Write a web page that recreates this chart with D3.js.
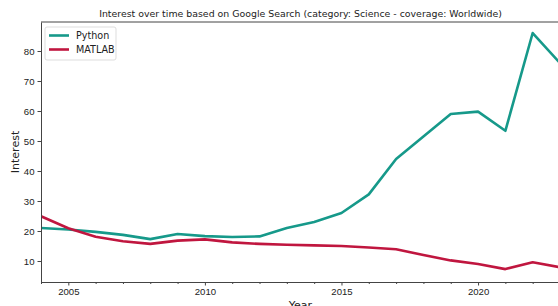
<!DOCTYPE html>
<html>
<head>
<meta charset="utf-8">
<script src="https://cdn.jsdelivr.net/npm/d3@7"></script>
<style>
  body { margin: 0; background: #fff; }
  svg { display: block; font-family: "DejaVu Sans", sans-serif; }
</style>
</head>
<body>
<svg id="chart" width="558" height="306"></svg>
<script>
// data
const years = [2004, 2005, 2006, 2007, 2008, 2009, 2010, 2011, 2012, 2013,
               2014, 2015, 2016, 2017, 2018, 2019, 2020, 2021, 2022, 2023];
const pythonVals = [21, 20.5, 19.7, 18.7, 17.3, 19, 18.3, 18, 18.2, 21,
                    23, 26, 32.2, 44, 51.5, 59, 59.8, 53.4, 86, 76];
const matlabVals = [24.9, 20.9, 18.1, 16.6, 15.7, 16.8, 17.2, 16.2, 15.7, 15.4,
                    15.2, 15, 14.5, 13.9, 12, 10.2, 9, 7.3, 9.6, 7.9];
const seriesNames = ["Python", "MATLAB"];
const seriesColors = ["#16998a", "#c0163f"];
const yTicks = [10, 20, 30, 40, 50, 60, 70, 80];
const xTicks = [2005, 2010, 2015, 2020];

const svg = d3.select("#chart");
const margin = {left: 41, top: 22, right: 560, bottom: 282};

const x = d3.scaleLinear().domain([2004, 2023]).range([margin.left, margin.right]);
const y = d3.scaleLinear().domain([3, 89.67]).range([margin.bottom, margin.top]);

//clip for lines
svg.append("defs").append("clipPath").attr("id", "plotClip")
    .append("rect")
    .attr("x", margin.left).attr("y", margin.top)
    .attr("width", margin.right - margin.left)
    .attr("height", margin.bottom - margin.top);

//title
svg.append("text")
    .attr("x", (margin.left + margin.right) / 2)
    .attr("y", 17)
    .attr("text-anchor", "middle")
    .style("font-size", "9.4px")
    .attr("fill", "#222")
    .text("Interest over time based on Google Search (category: Science - coverage: Worldwide)");

//lines
const line = d3.line().x((d, i) => x(years[i])).y(d => y(d));
[pythonVals, matlabVals].forEach((vals, i) => {
    svg.append("path")
        .datum(vals)
        .attr("clip-path", "url(#plotClip)")
        .attr("fill", "none")
        .attr("stroke", seriesColors[i])
        .attr("stroke-width", 2.6)
        .attr("stroke-linejoin", "round")
        .attr("d", line);
});

//axes
svg.append("g")
    .attr("transform", `translate(${margin.left},0)`)
    .call(d3.axisLeft(y).tickValues(yTicks).tickSize(3.5).tickPadding(3).tickSizeOuter(0));
svg.append("g")
    .attr("transform", `translate(0,${margin.bottom})`)
    .call(d3.axisBottom(x).tickValues(xTicks).tickFormat(d3.format("d")).tickSize(3.5).tickPadding(3).tickSizeOuter(0));
//minor ticks
svg.append("g")
    .attr("transform", `translate(0,${margin.bottom})`)
    .call(d3.axisBottom(x).tickValues(years.filter(v => !xTicks.includes(v))).tickFormat("").tickSize(2).tickSizeOuter(0))
    .select(".domain").remove();

svg.selectAll(".tick text").style("font-size", "9.6px").attr("fill", "#222");
svg.selectAll(".tick line").attr("stroke", "#444");
svg.selectAll(".domain").attr("stroke", "#444");

//top spine
svg.append("line")
    .attr("x1", margin.left).attr("x2", margin.right)
    .attr("y1", margin.top).attr("y2", margin.top)
    .attr("stroke", "#444");

//axis labels
svg.append("text")
    .attr("transform", `translate(19,${(margin.top + margin.bottom) / 2}) rotate(-90)`)
    .attr("text-anchor", "middle")
    .style("font-size", "11px")
    .attr("fill", "#222")
    .text("Interest");
svg.append("text")
    .attr("x", (margin.left + margin.right) / 2)
    .attr("y", 308.5)
    .attr("text-anchor", "middle")
    .style("font-size", "11px")
    .attr("fill", "#222")
    .text("Year");

//legend
const legend = svg.append("g").attr("transform", "translate(45,27)");
legend.append("rect")
    .attr("width", 71).attr("height", 33)
    .attr("rx", 2)
    .attr("fill", "#fff")
    .attr("stroke", "#ddd");
seriesNames.forEach((name, i) => {
    const gy = 8.5 + i * 14;
    legend.append("line")
        .attr("x1", 4).attr("x2", 24)
        .attr("y1", gy).attr("y2", gy)
        .attr("stroke", seriesColors[i])
        .attr("stroke-width", 2.6);
    legend.append("text")
        .attr("x", 31).attr("y", gy)
        .attr("dominant-baseline", "central")
        .style("font-size", "9.6px")
        .attr("fill", "#222")
        .text(name);
});
</script>
</body>
</html>
